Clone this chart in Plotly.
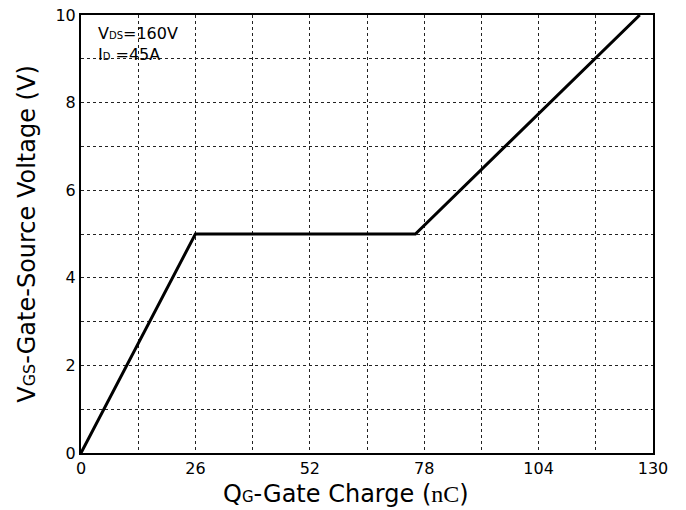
import plotly.graph_objects as go

qg = [0, 26, 76, 127]
vgs = [0, 5, 5, 10]
x_ticks = [0, 26, 52, 78, 104, 130]
y_ticks = [0, 2, 4, 6, 8, 10]

fig = go.Figure()
fig.add_trace(go.Scatter(x=qg, y=vgs, mode="lines",
                         line=dict(color="black", width=3), showlegend=False))

font = "DejaVu Sans, sans-serif"
grid = dict(showgrid=True, gridcolor="#222", griddash="3px,3px", gridwidth=1)
fig.update_layout(
    width=686, height=510,
    margin=dict(l=81, r=33, t=15, b=57),
    paper_bgcolor="white", plot_bgcolor="white",
    font=dict(family=font, color="black", size=16),
    xaxis=dict(range=[0, 130], tickvals=x_ticks, ticktext=[str(v) for v in x_ticks],
               **grid,
               minor=dict(dtick=13, tick0=0, **grid),
               showline=True, linecolor="black", linewidth=2, mirror=True,
               ticks="", ticklen=0, zeroline=False, automargin=False),
    yaxis=dict(range=[0, 10], tickvals=y_ticks, ticktext=[str(v) for v in y_ticks],
               **grid,
               minor=dict(dtick=1, tick0=0, **grid),
               showline=True, linecolor="black", linewidth=2, mirror=True,
               ticks="", ticklen=0, zeroline=False, automargin=False,
               title=dict(text="V<span style='font-size:16px'>GS</span>-Gate-Source Voltage (V)",
                          font=dict(size=24), standoff=13)),
    annotations=[
        dict(x=0.027, y=0.985, xref="paper", yref="paper", xanchor="left", yanchor="top",
             showarrow=False, align="left", font=dict(size=16),
             text="V<span style='font-size:10px'>DS</span>=160V<br>I<span style='font-size:10px'>D</span> =45A"),
        dict(x=0.463, y=-0.057, xref="paper", yref="paper", xanchor="center", yanchor="top",
             showarrow=False, font=dict(size=24),
             text="Q<span style='font-size:15px'>G</span>-Gate Charge (<span style='font-family:Liberation Serif, serif'>nC</span>)"),
    ],
)
fig.write_html("out.html", config={"displayModeBar": False},
               post_script="document.body.style.margin='0';")
